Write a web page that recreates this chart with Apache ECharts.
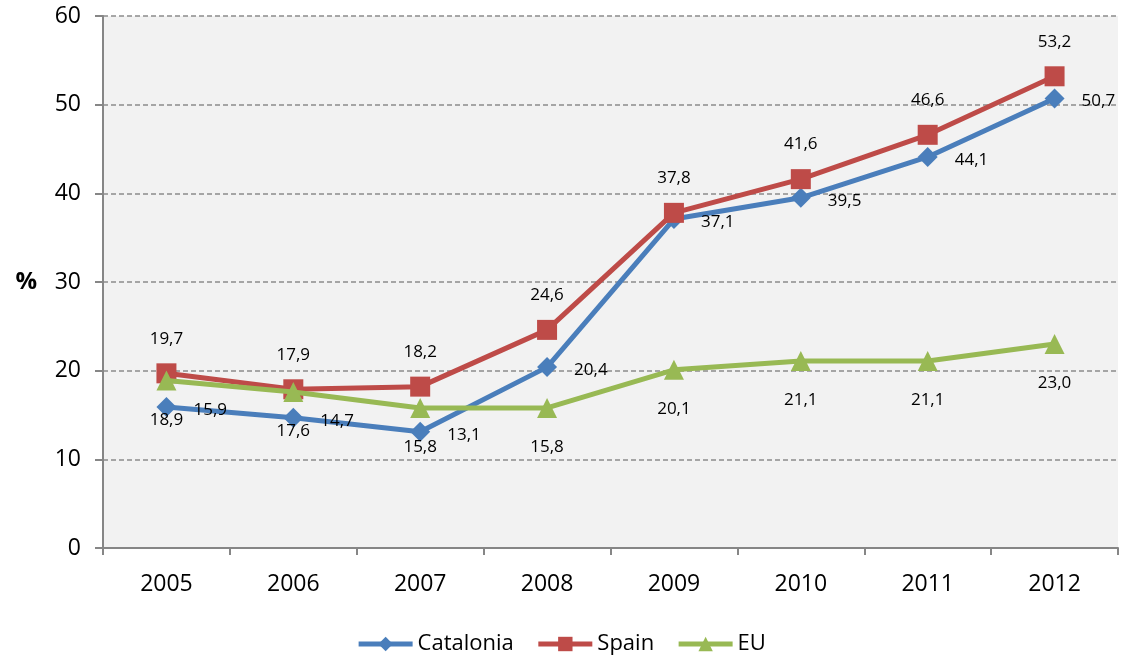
<!DOCTYPE html>
<html>
<head>
<meta charset="utf-8">
<script src="https://cdn.jsdelivr.net/npm/echarts@6/dist/echarts.min.js"></script>
<style>
  html, body { margin: 0; padding: 0; background: #ffffff; }
  #chart { width: 1122px; height: 657px; }
</style>
</head>
<body>
<div id="chart"></div>
<script>
// Years on the category axis
const years = ['2005', '2006', '2007', '2008', '2009', '2010', '2011', '2012'];
// Percentages per region
const catalonia = [15.9, 14.7, 13.1, 20.4, 37.1, 39.5, 44.1, 50.7];
const spain = [19.7, 17.9, 18.2, 24.6, 37.8, 41.6, 46.6, 53.2];
const eu = [18.9, 17.6, 15.8, 15.8, 20.1, 21.1, 21.1, 23.0];

const FONT = '"Open Sans", "DejaVu Sans", sans-serif';
const fmt = p => p.value.toFixed(1).replace('.', ',');

const chart = echarts.init(document.getElementById('chart'));
chart.setOption({
  animation: false,
  textStyle: { fontFamily: FONT },
  grid: {
    left: 103, right: 4, top: 16, bottom: 109,
    show: true, backgroundColor: '#F2F2F2', borderWidth: 0
  },
  legend: {
    top: 628, left: 'center',
    itemWidth: 54, itemHeight: 18, itemGap: 22,
    lineStyle: { width: 5 },
    textStyle: { fontSize: 22, color: '#000', fontFamily: FONT },
    data: ['Catalonia', 'Spain', 'EU']
  },
  xAxis: {
    type: 'category',
    data: years,
    boundaryGap: true,
    axisLine: { lineStyle: { color: '#868686', width: 2 } },
    axisTick: { show: true, length: 7, alignWithLabel: false, lineStyle: { color: '#868686', width: 2 } },
    axisLabel: { fontSize: 23, color: '#000', margin: 25, fontFamily: FONT },
    splitLine: { show: false }
  },
  yAxis: {
    type: 'value',
    min: 0, max: 60, interval: 10,
    name: '%',
    nameLocation: 'middle',
    nameRotate: 0,
    nameGap: 66,
    nameTextStyle: { fontSize: 24, fontWeight: 'bold', color: '#000', fontFamily: FONT, padding: [6, 0, 0, 0] },
    axisLine: { show: true, lineStyle: { color: '#868686', width: 2 } },
    axisTick: { show: true, length: 8, lineStyle: { color: '#868686', width: 2 } },
    axisLabel: { fontSize: 23, color: '#000', margin: 22, fontFamily: FONT },
    splitLine: { show: true, lineStyle: { color: '#8C8C8C', type: [5, 3], width: 1.5 } }
  },
  series: [
    {
      name: 'Catalonia', type: 'line', data: catalonia,
      symbol: 'diamond', symbolSize: 20,
      lineStyle: { width: 5, color: '#4A7EBB' },
      itemStyle: { color: '#4A7EBB' },
      label: {
        show: true, position: 'right', distance: 17, offset: [0, 3],
        fontSize: 17, color: '#000', fontFamily: FONT, formatter: fmt
      },
      z: 2
    },
    {
      name: 'Spain', type: 'line', data: spain,
      symbol: 'rect', symbolSize: 20,
      lineStyle: { width: 5, color: '#BE4B48' },
      itemStyle: { color: '#BE4B48' },
      label: {
        show: true, position: 'top', distance: 16,
        fontSize: 17, color: '#000', fontFamily: FONT, formatter: fmt
      },
      z: 3
    },
    {
      name: 'EU', type: 'line', data: eu,
      symbol: 'triangle', symbolSize: 20,
      lineStyle: { width: 5, color: '#98B954' },
      itemStyle: { color: '#98B954' },
      label: {
        show: true, position: 'bottom', distance: 21,
        fontSize: 17, color: '#000', fontFamily: FONT, formatter: fmt
      },
      z: 4
    }
  ]
});
</script>
</body>
</html>
